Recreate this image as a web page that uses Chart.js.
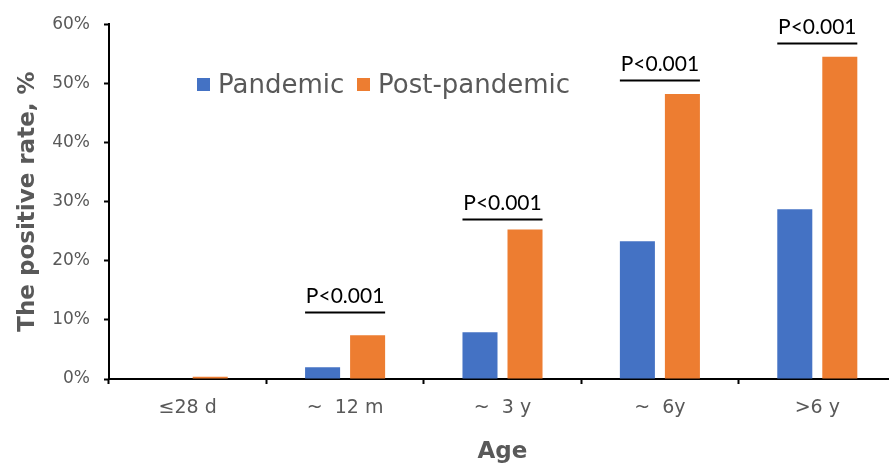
<!DOCTYPE html>
<html>
<head>
    <title>The positive rate by age</title>
    <script src="https://cdn.jsdelivr.net/npm/chart.js"></script>
    <style>
        body { margin: 0; overflow: hidden; background: #fff; }
    </style>
</head>
<body>
    <canvas id="rateChart" width="896" height="466"></canvas>
    <script>
        // data
        var ageGroups = ['≤28 d', '~  12 m', '~  3 y', '~  6y', '>6 y'];
        var pandemic = [0, 2.0, 7.9, 23.3, 28.7];
        var postPandemic = [0.4, 7.4, 25.3, 48.2, 54.5];
        var pLabels = [null, 'P<0.001', 'P<0.001', 'P<0.001', 'P<0.001'];
        var pLineLevels = [null, 11.3, 27.0, 50.6, 56.8];

        var blue = '#4472C4';
        var orange = '#ED7D31';
        var grey = '#595959';

        // legend drawn inside the plot, like the original
        var legendPlugin = {
            id: 'insideLegend',
            afterDraw: function (chart) {
                var c = chart.ctx;
                var items = [
                    { text: 'Pandemic', color: blue, x: 197 },
                    { text: 'Post-pandemic', color: orange, x: 357 }
                ];
                c.save();
                c.font = '26px "DejaVu Sans"';
                c.textBaseline = 'alphabetic';
                c.textAlign = 'left';
                items.forEach(function (it) {
                    c.fillStyle = it.color;
                    c.fillRect(it.x, 78, 13, 13);
                    c.fillStyle = grey;
                    c.fillText(it.text, it.x + 21, 93);
                });
                c.restore();
            }
        };

        // P-value brackets above each pair of bars
        var pValuePlugin = {
            id: 'pValues',
            afterDatasetsDraw: function (chart) {
                var c = chart.ctx;
                var a = chart.getDatasetMeta(0).data;
                var b = chart.getDatasetMeta(1).data;
                var y = chart.scales.y;
                c.save();
                c.strokeStyle = '#000';
                c.fillStyle = '#000';
                c.lineWidth = 2;
                c.font = '21px Lato';
                c.textAlign = 'center';
                c.textBaseline = 'alphabetic';
                for (var i = 0; i < pLabels.length; i++) {
                    if (!pLabels[i]) continue;
                    var x1 = a[i].x - a[i].width / 2;
                    var x2 = b[i].x + b[i].width / 2;
                    var py = Math.round(y.getPixelForValue(pLineLevels[i])) + 0.5;
                    c.beginPath();
                    c.moveTo(x1, py);
                    c.lineTo(x2, py);
                    c.stroke();
                    c.fillText(pLabels[i], (x1 + x2) / 2, py - 10);
                }
                c.restore();
            }
        };

        var ctx = document.getElementById('rateChart').getContext('2d');
        var rateChart = new Chart(ctx, {
            type: 'bar',
            data: {
                labels: ageGroups,
                datasets: [{
                    label: 'Pandemic',
                    data: pandemic,
                    backgroundColor: blue
                }, {
                    label: 'Post-pandemic',
                    data: postPandemic,
                    backgroundColor: orange
                }]
            },
            options: {
                responsive: false,
                animation: false,
                categoryPercentage: 0.572,
                barPercentage: 0.778,
                layout: { padding: { top: 23, right: 0, bottom: 0, left: 0 } },
                plugins: {
                    legend: { display: false },
                    tooltip: { enabled: false }
                },
                scales: {
                    x: {
                        afterFit: function (scale) { scale.height = 87; },
                        border: { display: true, color: '#000', width: 2 },
                        grid: { drawOnChartArea: false, drawTicks: true, tickLength: 5, tickWidth: 2, color: '#000' },
                        ticks: { color: grey, padding: 13, font: { family: 'DejaVu Sans', size: 19 } },
                        title: {
                            display: true,
                            text: 'Age',
                            color: grey,
                            padding: { top: 0, bottom: 0 },
                            font: { family: 'DejaVu Sans', size: 23, weight: 'bold' }
                        }
                    },
                    y: {
                        min: 0,
                        max: 60,
                        afterFit: function (scale) { scale.width = 109; },
                        border: { display: true, color: '#000', width: 2 },
                        grid: { drawOnChartArea: false, drawTicks: true, tickLength: 5, tickWidth: 2, color: '#000' },
                        ticks: {
                            stepSize: 10,
                            color: grey,
                            padding: 14,
                            font: { family: 'DejaVu Sans', size: 17 },
                            callback: function (v) { return v + '%'; }
                        },
                        title: {
                            display: true,
                            text: 'The positive rate, %',
                            color: grey,
                            padding: { top: 14, bottom: 0 },
                            font: { family: 'DejaVu Sans', size: 23, weight: 'bold' }
                        }
                    }
                }
            },
            plugins: [legendPlugin, pValuePlugin]
        });
    </script>
</body>
</html>
